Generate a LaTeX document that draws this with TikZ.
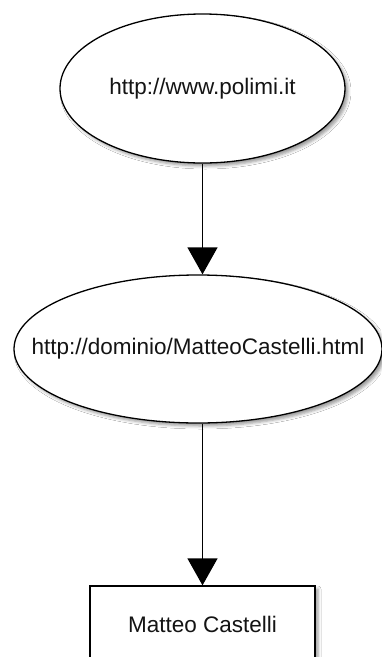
\documentclass[tikz,border=0pt]{standalone}
\usepackage{fontspec}
\setmainfont{Liberation Sans}
\usetikzlibrary{shapes.geometric,arrows.meta,shadows.blur}
\definecolor{txt}{HTML}{141414}
\begin{document}
\begin{tikzpicture}[x=1pt,y=-1pt,
  shade box/.style={draw=black,line width=1.3pt,fill=white,
    blur shadow={shadow xshift=3pt,shadow yshift=-3pt,shadow blur radius=3pt,shadow opacity=40}},
  urlnode/.style={shade box,ellipse,inner sep=0pt},
  personnode/.style={shade box,rectangle,inner sep=0pt,text=txt,font=\fontsize{22.5}{26}\selectfont},
  label text/.style={text=txt,font=\fontsize{22.5}{26}\selectfont,inner sep=0pt},
  link/.style={line width=1.3pt,-{Triangle[width=30pt,length=27pt]}}]
  \useasboundingbox[fill=white] (0,0) rectangle (381,657);
  % the two resources, drawn as ellipses with their URL on top
  \node[urlnode,minimum width=285pt,minimum height=149pt] (polimi) at (202.5,88.5) {};
  \node[label text] (polimitext) at (polimi.center) {http://www.polimi.it};
  \node[urlnode,minimum width=368pt,minimum height=148pt] (page) at (198,349) {};
  \node[label text] (pagetext) at (page.center) {http://dominio/MatteoCastelli.html};
  % the person, drawn as a box
  \node[personnode,minimum width=225pt,minimum height=76pt] (person) at (202.5,624) {Matteo Castelli};
  \draw[link] (polimi.south) -- (polimi.south |- page.north);
  \draw[link] (person.north |- page.south) -- (person.north);
\end{tikzpicture}
\end{document}
